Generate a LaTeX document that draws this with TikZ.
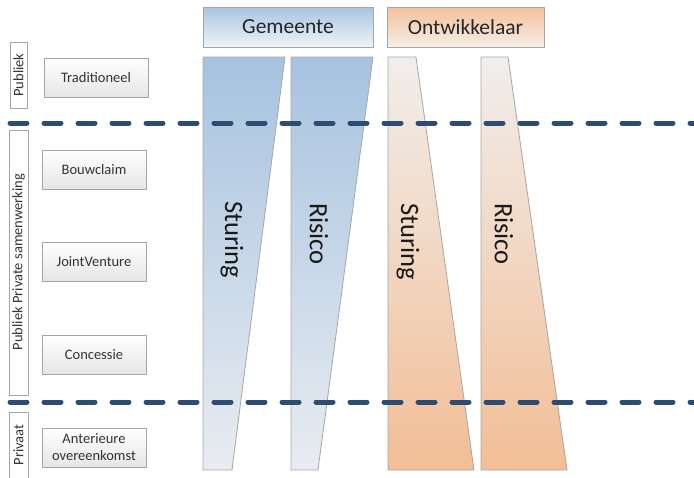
\documentclass[tikz,border=0pt]{standalone}
\usepackage{fontspec}
\setmainfont{Carlito}
\usetikzlibrary{shadows}
\definecolor{txt}{HTML}{333333}
\definecolor{frame}{HTML}{A6A6A6}
\definecolor{dashblue}{HTML}{2C4D71}
\definecolor{gemtop}{HTML}{A7C3E0}
\definecolor{gembot}{HTML}{E9ECF1}
\definecolor{ontop}{HTML}{F1EEEC}
\definecolor{onbot}{HTML}{F2BE96}
\definecolor{ghtop}{HTML}{A8C4E1}
\definecolor{ghbot}{HTML}{EFF3F8}
\definecolor{ohtop}{HTML}{F4C19A}
\definecolor{ohbot}{HTML}{F5EEE8}
\tikzset{
  smallbox/.style={draw=frame, line width=0.8pt, top color=white, bottom color=black!10,
    minimum width=104pt, minimum height=39pt, inner sep=1pt, align=center,
    font=\fontsize{14.5}{17}\selectfont, text=txt,
    drop shadow={shadow xshift=0.8pt, shadow yshift=-0.8pt, opacity=0.25}},
  sidebox/.style={draw=frame, line width=0.8pt, fill=white},
  sidelabel/.style={rotate=90, font=\fontsize{14.5}{17}\selectfont, text=txt, inner sep=0pt},
  header/.style={draw=frame, line width=0.8pt, font=\fontsize{21.5}{24}\selectfont, text=black!85,
    minimum height=40pt, inner sep=0pt},
  trap/.style={draw=frame, line width=0.8pt},
  traplabel/.style={rotate=-90, font=\fontsize{26.5}{30}\selectfont, text=black!90, inner sep=0pt},
  sepline/.style={draw=dashblue, line width=5pt, line cap=round, dash pattern=on 17pt off 17pt}
}
\begin{document}
\begin{tikzpicture}[x=1pt,y=-1pt]
\useasboundingbox (0,0) rectangle (694,477);
% side bars
\draw[sidebox] (10,42) rectangle (27,108);
\node[sidelabel] (publiek) at (18.5,75) {Publiek};
\draw[sidebox] (9,130) rectangle (28,395);
\node[sidelabel] (pps) at (18.5,262) {Publiek Private samenwerking};
\draw[sidebox] (9,412) rectangle (28,482);
\node[sidelabel] (privaat) at (18.5,445) {Privaat};
% small boxes
\node[smallbox] (trad) at (96,77.5) {Traditioneel};
\node[smallbox] (bouw) at (94,170) {Bouwclaim};
\node[smallbox] (jv) at (94,262) {JointVenture};
\node[smallbox] (conc) at (94,355) {Concessie};
\node[smallbox] (ant) at (94,447.5) {Anterieure\\overeenkomst};
% headers
\node[header, minimum width=170pt, top color=ghtop, bottom color=ghbot] (gem) at (288,27) {Gemeente};
\node[header, minimum width=157pt, top color=ohtop, bottom color=ohbot] (ont) at (465.5,27) {Ontwikkelaar};
% trapezoids
\path[trap, top color=gemtop, bottom color=gembot] (203,57) -- (285,57) -- (232,470) -- (203,470) -- cycle;
\path[trap, top color=gemtop, bottom color=gembot] (291,57) -- (373,57) -- (318,470) -- (291,470) -- cycle;
\path[trap, top color=ontop, bottom color=onbot] (388,57) -- (416,57) -- (474,470) -- (388,470) -- cycle;
\path[trap, top color=ontop, bottom color=onbot] (481,57) -- (508,57) -- (567,470) -- (481,470) -- cycle;
\node[traplabel] (gs) at (232,240) {Sturing};
\node[traplabel] (gr) at (319,234) {Risico};
\node[traplabel] (os) at (408,242) {Sturing};
\node[traplabel] (or) at (504,234) {Risico};
% separator lines
\coordinate (l1a) at (10,123);
\coordinate (l1b) at (700,123);
\coordinate (l2a) at (10,402);
\coordinate (l2b) at (700,402);
\draw[sepline] (l1a) -- (l1b);
\draw[sepline] (l2a) -- (l2b);
\end{tikzpicture}
\end{document}
